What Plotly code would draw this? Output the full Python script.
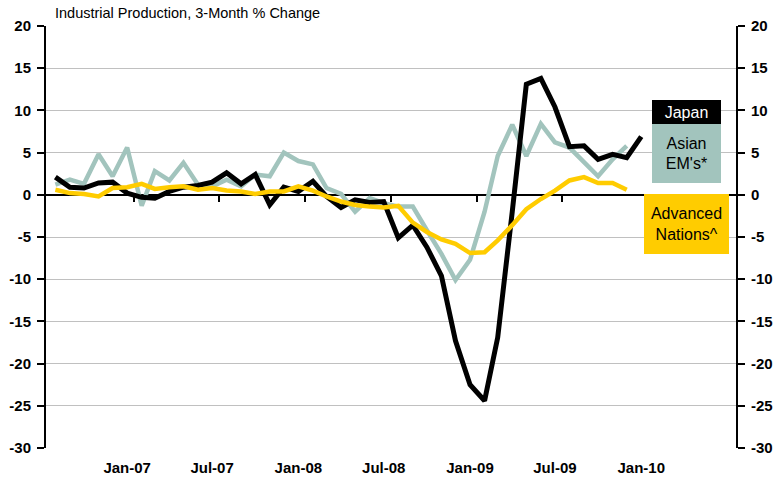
import pandas as pd
import plotly.graph_objects as go

# Monthly observations, Aug-06 onward
months = pd.date_range("2006-08-01", periods=42, freq="MS")

japan = [2.1, 0.9, 0.8, 1.4, 1.5, 0.2, -0.3, -0.4, 0.4, 0.9, 1.1, 1.5, 2.6, 1.3,
         2.4, -1.2, 0.9, 0.4, 1.6, -0.2, -1.5, -0.6, -0.9, -0.8, -5.1, -3.6, -6.2,
         -9.6, -17.3, -22.5, -24.4, -16.9, -2.0, 13.1, 13.8, 10.4, 5.7, 5.8, 4.2,
         4.8, 4.4, 6.9]
asian_em = [1.2, 1.8, 1.3, 4.8, 2.2, 5.6, -1.3, 2.8, 1.7, 3.8, 1.2, 1.0, 1.8, 1.0,
            2.4, 2.2, 5.0, 4.0, 3.6, 0.8, 0.1, -2.0, -0.4, -1.0, -1.4, -1.4, -4.2,
            -7.0, -10.1, -7.7, -2.0, 4.6, 8.3, 4.6, 8.4, 6.2, 5.6, 3.8, 2.2, 4.2, 5.8]
advanced = [0.6, 0.2, 0.1, -0.2, 0.8, 0.9, 1.3, 0.7, 0.9, 1.0, 0.6, 0.8, 0.5, 0.4,
            0.1, 0.4, 0.4, 1.0, 0.5, -0.2, -0.8, -1.2, -1.4, -1.5, -1.3, -3.3, -4.4,
            -5.3, -5.8, -6.9, -6.8, -5.4, -3.6, -1.7, -0.5, 0.5, 1.7, 2.1, 1.4, 1.4, 0.6]

tick_dates = ["2007-01-01", "2007-07-01", "2008-01-01", "2008-07-01",
              "2009-01-01", "2009-07-01", "2010-01-01"]
tick_labels = ["Jan-07", "Jul-07", "Jan-08", "Jul-08", "Jan-09", "Jul-09", "Jan-10"]
minor_ticks = ["2007-01-16", "2007-07-16", "2008-01-16", "2008-07-16",
               "2009-01-16", "2009-07-16", "2010-01-16"]
y_ticks = [20, 15, 10, 5, 0, -5, -10, -15, -20, -25, -30]
y_labels = ["20", "15", "10", "5", "0", "-5", "-10", "-15", "-20", "-25", "-30"]

GREEN = "#A2C4BD"
YELLOW = "#FFCC00"
FONT = "Liberation Sans, Arial, sans-serif"
x_range = ["2006-07-12", "2010-07-22"]
y_range = [-30, 20]

fig = go.Figure()
fig.add_trace(go.Scatter(x=months[:len(asian_em)], y=asian_em, mode="lines",
                         line=dict(color=GREEN, width=4.5), name="Asian EM's*"))
fig.add_trace(go.Scatter(x=months[:len(japan)], y=japan, mode="lines",
                         line=dict(color="black", width=5), name="Japan"))
fig.add_trace(go.Scatter(x=months[:len(advanced)], y=advanced, mode="lines",
                         line=dict(color=YELLOW, width=4.5), name="Advanced Nations^"))
# helper trace for the secondary axes (right y axis, tick marks on zero line)
fig.add_trace(go.Scatter(x=[months[0]], y=[0], xaxis="x2", yaxis="y2", mode="markers",
                         marker=dict(opacity=0), hoverinfo="skip", showlegend=False))

tickfont = dict(family=FONT, size=15, color="black", weight="bold")

fig.update_layout(
    width=774, height=482,
    margin=dict(l=46, r=38, t=26, b=34, autoexpand=False),
    paper_bgcolor="white", plot_bgcolor="white",
    showlegend=False,
    xaxis=dict(type="date", range=x_range, tickvals=tick_dates, ticktext=tick_labels,
               showgrid=False, zeroline=False, showline=False, automargin=False,
               ticks="outside", ticklen=6, tickcolor="rgba(0,0,0,0)",
               tickfont=tickfont),
    xaxis2=dict(type="date", range=x_range, overlaying="x", anchor="free",
                position=0.6, side="bottom", tickvals=minor_ticks, automargin=False,
                showticklabels=False, ticks="outside", ticklen=6, tickwidth=1.5,
                tickcolor="black", showgrid=False, zeroline=False, showline=False),
    yaxis=dict(range=y_range, tickvals=y_ticks, ticktext=y_labels, automargin=False,
               showgrid=True, gridcolor="#C0C0C0",
               gridwidth=1, zeroline=True, zerolinecolor="black", zerolinewidth=2,
               showline=True, linecolor="black", linewidth=2,
               ticks="outside", ticklen=7, tickwidth=2, tickcolor="black",
               ticklabelstandoff=3, tickfont=tickfont),
    yaxis2=dict(range=y_range, tickvals=y_ticks, ticktext=y_labels, overlaying="y",
                side="right", anchor="x", showgrid=False, zeroline=False, automargin=False,
                showline=True, linecolor="black", linewidth=2,
                ticks="outside", ticklen=7, tickwidth=2, tickcolor="black",
                ticklabelstandoff=3, tickfont=tickfont),
)

fig.add_annotation(text="Industrial Production, 3-Month % Change",
                   xref="paper", yref="paper", x=0.0101, y=1.031,
                   xanchor="left", yanchor="middle", showarrow=False,
                   font=dict(family=FONT, size=14.5, color="black"))

label_font = dict(family=FONT, size=16, color="black")
fig.add_annotation(text="Japan", xref="paper", yref="paper", x=0.9283, y=0.796,
                   xanchor="center", yanchor="middle", showarrow=False,
                   width=69, height=24, bgcolor="black", borderpad=0, borderwidth=0,
                   font=dict(family=FONT, size=16, color="white"))
fig.add_annotation(text="Asian<br>EM's*", xref="paper", yref="paper", x=0.9283, y=0.6971,
                   xanchor="center", yanchor="middle", showarrow=False,
                   width=69, height=59, bgcolor=GREEN, borderpad=0, borderwidth=0,
                   font=label_font)
fig.add_annotation(text="Advanced<br>Nations^", xref="paper", yref="paper", x=0.9283, y=0.5303,
                   xanchor="center", yanchor="middle", showarrow=False,
                   width=85, height=60, bgcolor=YELLOW, borderpad=0, borderwidth=0,
                   font=label_font)

fig.write_html("out.html", config={"displayModeBar": False},
               post_script="document.body.style.margin='0';document.body.style.overflow='hidden';")
